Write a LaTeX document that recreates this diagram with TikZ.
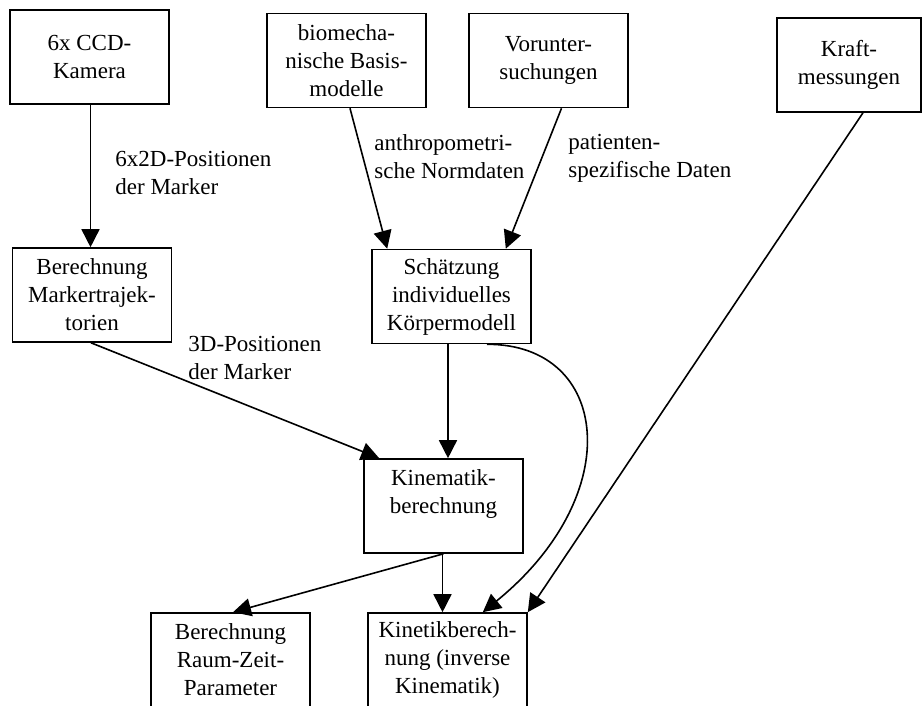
\documentclass[tikz,border=0pt]{standalone}
\usepackage{fontspec}
\setmainfont{Liberation Serif}
\usepackage{tikz}
\usetikzlibrary{positioning,arrows.meta,calc}

\tikzset{
  box/.style={draw, line width=0.8pt, minimum width=79.5pt, minimum height=47pt,
    inner sep=0pt, align=center, font=\fontsize{11.5}{14}\selectfont},
  lbl/.style={anchor=north west, inner sep=0pt, align=left,
    font=\fontsize{11.5}{14}\selectfont},
  arr/.style={line width=0.8pt, -{Triangle[length=9pt,width=9pt]}}
}

\begin{document}
\begin{tikzpicture}[x=0.5pt,y=-0.5pt]
    \useasboundingbox (0,0) rectangle (923,706);
    \clip (0,0) rectangle (923,706);
    % boxes
    \node[box] (ccd) at (89.5,57) {6x CCD-\\Kamera};
    \node[box] (bio) at (346.5,60.5) {biomecha-\\nische Basis-\\modelle};
    \node[box] (vor) at (548.5,60.5) {Vorunter-\\suchungen};
    \node[box,minimum width=72pt] (kraft) at (849,65) {Kraft-\\messungen};
    \node[box] (traj) at (92,295) {Berechnung\\Markertrajek-\\torien};
    \node[box] (sch) at (451.5,296.5) {Schätzung\\individuelles\\Körpermodell};
    \node[box] (kin) at (443.5,506) {Kinematik-\\berechnung\\\mbox{}};
    \node[box] (raum) at (230.5,660) {Berechnung\\Raum-Zeit-\\Parameter};
    \node[box] (kinet) at (447.5,660) {Kinetikberech-\\nung (inverse\\Kinematik)};
    % labels
    \node[lbl] (l1) at (115,151) {6x2D-Positionen\\der Marker};
    \node[lbl] (l2) at (374,134) {anthropometri-\\sche Normdaten};
    \node[lbl] (l3) at (568,134) {patienten-\\spezifische Daten};
    \node[lbl] (l4) at (188,336) {3D-Positionen\\der Marker};
    % connectors
    \draw[arr] ($(ccd.south)+(1,0)$) -- ($(ccd.south |- traj.north)+(1,0)$);
    \draw[arr] ($(bio.south)+(3.5,0)$) -- ($(sch.north west)+(16,0)$);
    \draw[arr] ($(vor.south)+(13,0)$) -- ($(sch.north east)+(-26,0)$);
    \draw[arr] ($(traj.south)+(-1,0)$) -- ($(kin.north west)+(16,0)$);
    \draw[arr] ($(sch.south)+(-3.5,0)$) -- ($(sch.south |- kin.north)+(-3.5,0)$);
    \draw[arr] ($(sch.south)+(35.5,0)$) .. controls (610,344) and (628,494) .. ($(kinet.north east)+(-45,0)$);
    \draw[arr] ($(kraft.south)+(14,0)$) -- (kinet.north east);
    \draw[arr] ($(kin.south)+(-1,0)$) -- ($(kin.south |- kinet.north)+(-1,0)$);
    \draw[arr] (kin.south) -- ($(raum.north)+(2.5,0)$);
\end{tikzpicture}
\end{document}
